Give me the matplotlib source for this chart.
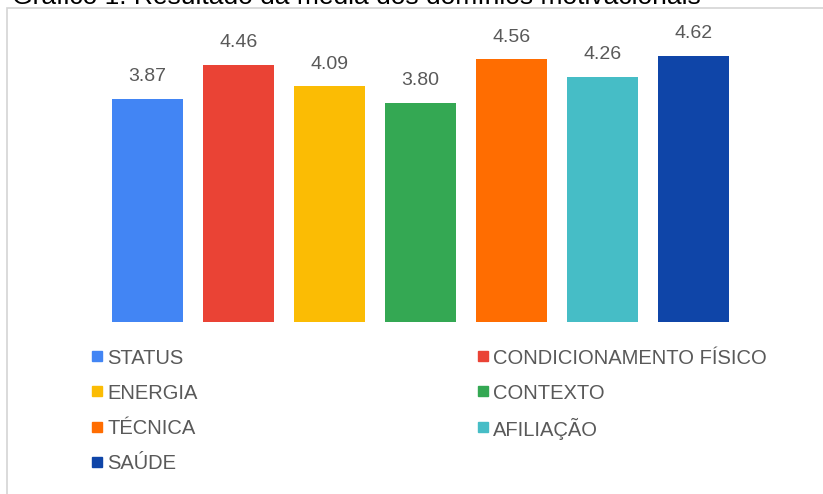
import matplotlib
matplotlib.use("Agg")
import matplotlib.pyplot as plt
from matplotlib.patches import Rectangle

plt.rcParams['font.family'] = ['Liberation Sans', 'DejaVu Sans']

categorias = ["STATUS", "CONDICIONAMENTO FÍSICO", "ENERGIA", "CONTEXTO",
              "TÉCNICA", "AFILIAÇÃO", "SAÚDE"]
medias = [3.87, 4.46, 4.09, 3.80, 4.56, 4.26, 4.62]
cores = ["#4285F4", "#EA4335", "#FBBC04", "#34A853",
         "#FF6D01", "#46BDC6", "#0F45A8"]
titulo = "Gráfico 1: Resultado da média dos domínios motivacionais"

W, H = 823, 494
fig = plt.figure(figsize=(W / 100, H / 100), dpi=100)

# moldura cinza do grafico
fig.patches.append(Rectangle((7 / W, -0.1), 1.0, 1 - 8 / H + 0.1,
                             transform=fig.transFigure, fill=False,
                             edgecolor="#d4d4d4", linewidth=1.2))

fig.text(12 / W, 1 - 4 / H, titulo, fontsize=19, color="black",
         va="baseline")

ax = fig.add_axes([102 / W, 1 - 322 / H, 637 / W, 288 / H])
for i, (c, v, cor) in enumerate(zip(categorias, medias, cores)):
    ax.bar(i, v, width=0.78, color=cor, label=c)
    ax.annotate(f"{v:.2f}", (i, v), xytext=(0, 16), textcoords="offset points",
                ha="center", va="center", fontsize=14, color="#595959")

ax.set_xlim(-0.5, 6.5)
ax.set_ylim(0, 5)
ax.axis("off")

# legenda em duas colunas, preenchida por linhas
col_x = [92, 478]
linha_y0, passo = 356, 35.3
for i, (c, cor) in enumerate(zip(categorias, cores)):
    x = col_x[i % 2]
    y = linha_y0 + passo * (i // 2)
    fig.patches.append(Rectangle((x / W, 1 - (y + 5) / H), 10 / W, 10 / H,
                                 transform=fig.transFigure, color=cor))
    fig.text((x + 15) / W, 1 - y / H, c, fontsize=14.5, color="#595959",
             va="center_baseline")

fig.savefig("out.png", dpi=100)
